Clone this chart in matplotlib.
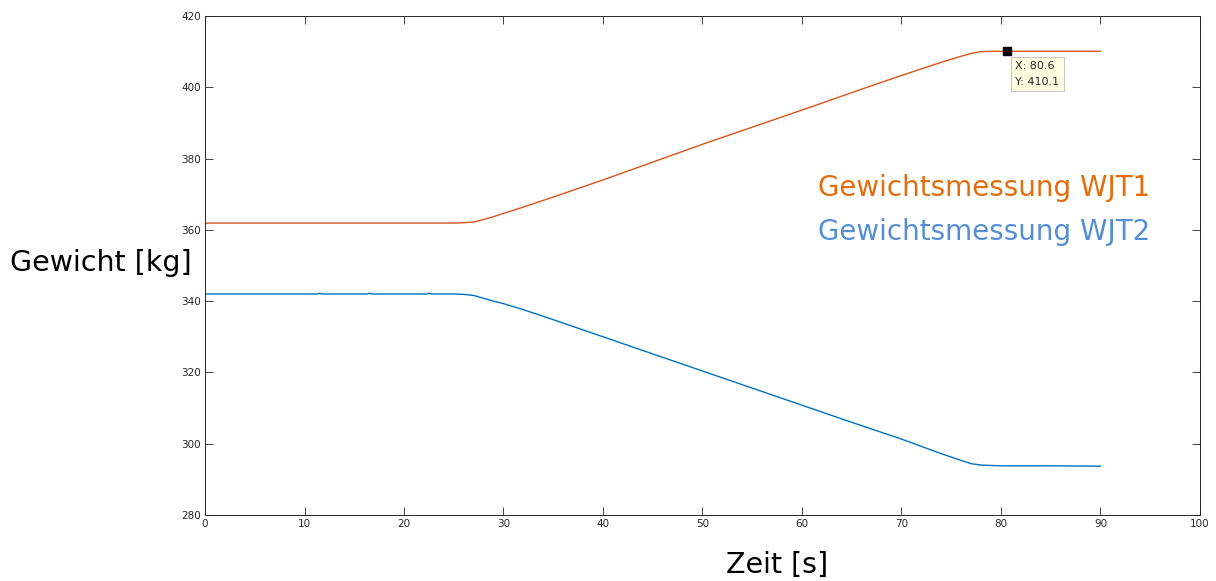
import matplotlib
matplotlib.use("Agg")
import matplotlib.pyplot as plt

# Weight readings of the two tanks over time
t_wjt1 = [0, 5, 10, 15, 20, 25, 26, 27, 28, 29, 30, 32, 35, 40, 45, 50, 55, 60,
          65, 70, 74, 76, 77, 78, 79, 80, 80.6, 85, 90]
w_wjt1 = [361.9, 361.9, 361.9, 361.9, 361.9, 361.9, 362.0, 362.2, 362.9, 363.7,
          364.6, 366.4, 369.2, 374.0, 379.0, 384.0, 388.8, 393.6, 398.5, 403.3,
          407.0, 408.7, 409.5, 410.0, 410.1, 410.1, 410.1, 410.1, 410.1]

t_wjt2 = [0, 5, 11.3, 11.5, 11.8, 16.3, 16.5, 16.8, 22.3, 22.5, 22.8, 25, 26, 27,
          28, 29, 30, 32, 35, 40, 45, 50, 55, 60, 65, 70, 74, 76, 77, 78, 80, 85, 90]
w_wjt2 = [342.0, 342.0, 342.0, 342.2, 342.0, 342.0, 342.2, 342.0, 342.0, 342.2,
          342.0, 342.0, 341.9, 341.6, 340.8, 340.0, 339.3, 337.6, 334.8, 330.0,
          325.2, 320.4, 315.6, 310.8, 306.0, 301.3, 297.2, 295.3, 294.4, 294.0,
          293.8, 293.8, 293.7]

x_ticks = list(range(0, 101, 10))
y_ticks = list(range(280, 421, 20))

tip_x, tip_y = 80.6, 410.1

fig = plt.figure(figsize=(12.16, 5.81), dpi=100)
ax = fig.add_axes([0.1686, 0.1136, 0.8182, 0.8589])

ax.plot(t_wjt1, w_wjt1, color="#D95319", lw=1.0)
ax.plot(t_wjt2, w_wjt2, color="#0072BD", lw=1.0)

ax.set_xlim(0, 100)
ax.set_ylim(280, 420)
ax.set_xticks(x_ticks)
ax.set_yticks(y_ticks)
ax.tick_params(direction="in", length=6, width=0.6, top=True, right=True,
               labelsize=7.5, colors="#262626", pad=3)
for s in ax.spines.values():
    s.set_color("#262626")
    s.set_linewidth(0.7)

# data tip
ax.plot([tip_x], [tip_y], marker="s", ms=5.5, color="black", ls="none")
ax.annotate(f"X: {tip_x}\nY: {tip_y}", xy=(tip_x, tip_y), xytext=(6, -7),
            textcoords="offset points", ha="left", va="top", fontsize=8,
            color="#262626", linespacing=1.7,
            bbox=dict(boxstyle="square,pad=0.4", fc="#FFFFE1", ec="#C8C8C8", lw=0.8))

fig.text(0.0085, 0.548, "Gewicht [kg]", fontsize=20.5, ha="left", va="center",
         color="black")
fig.text(0.639, 0.027, "Zeit [s]", fontsize=20.5, ha="center", va="center",
         color="black")

ax.text(0.616, 0.655, "Gewichtsmessung WJT1", transform=ax.transAxes,
        fontsize=20, color="#E46C0A", ha="left", va="center")
ax.text(0.616, 0.567, "Gewichtsmessung WJT2", transform=ax.transAxes,
        fontsize=20, color="#558ED5", ha="left", va="center")

fig.savefig("out.png", dpi=100, facecolor="white")
